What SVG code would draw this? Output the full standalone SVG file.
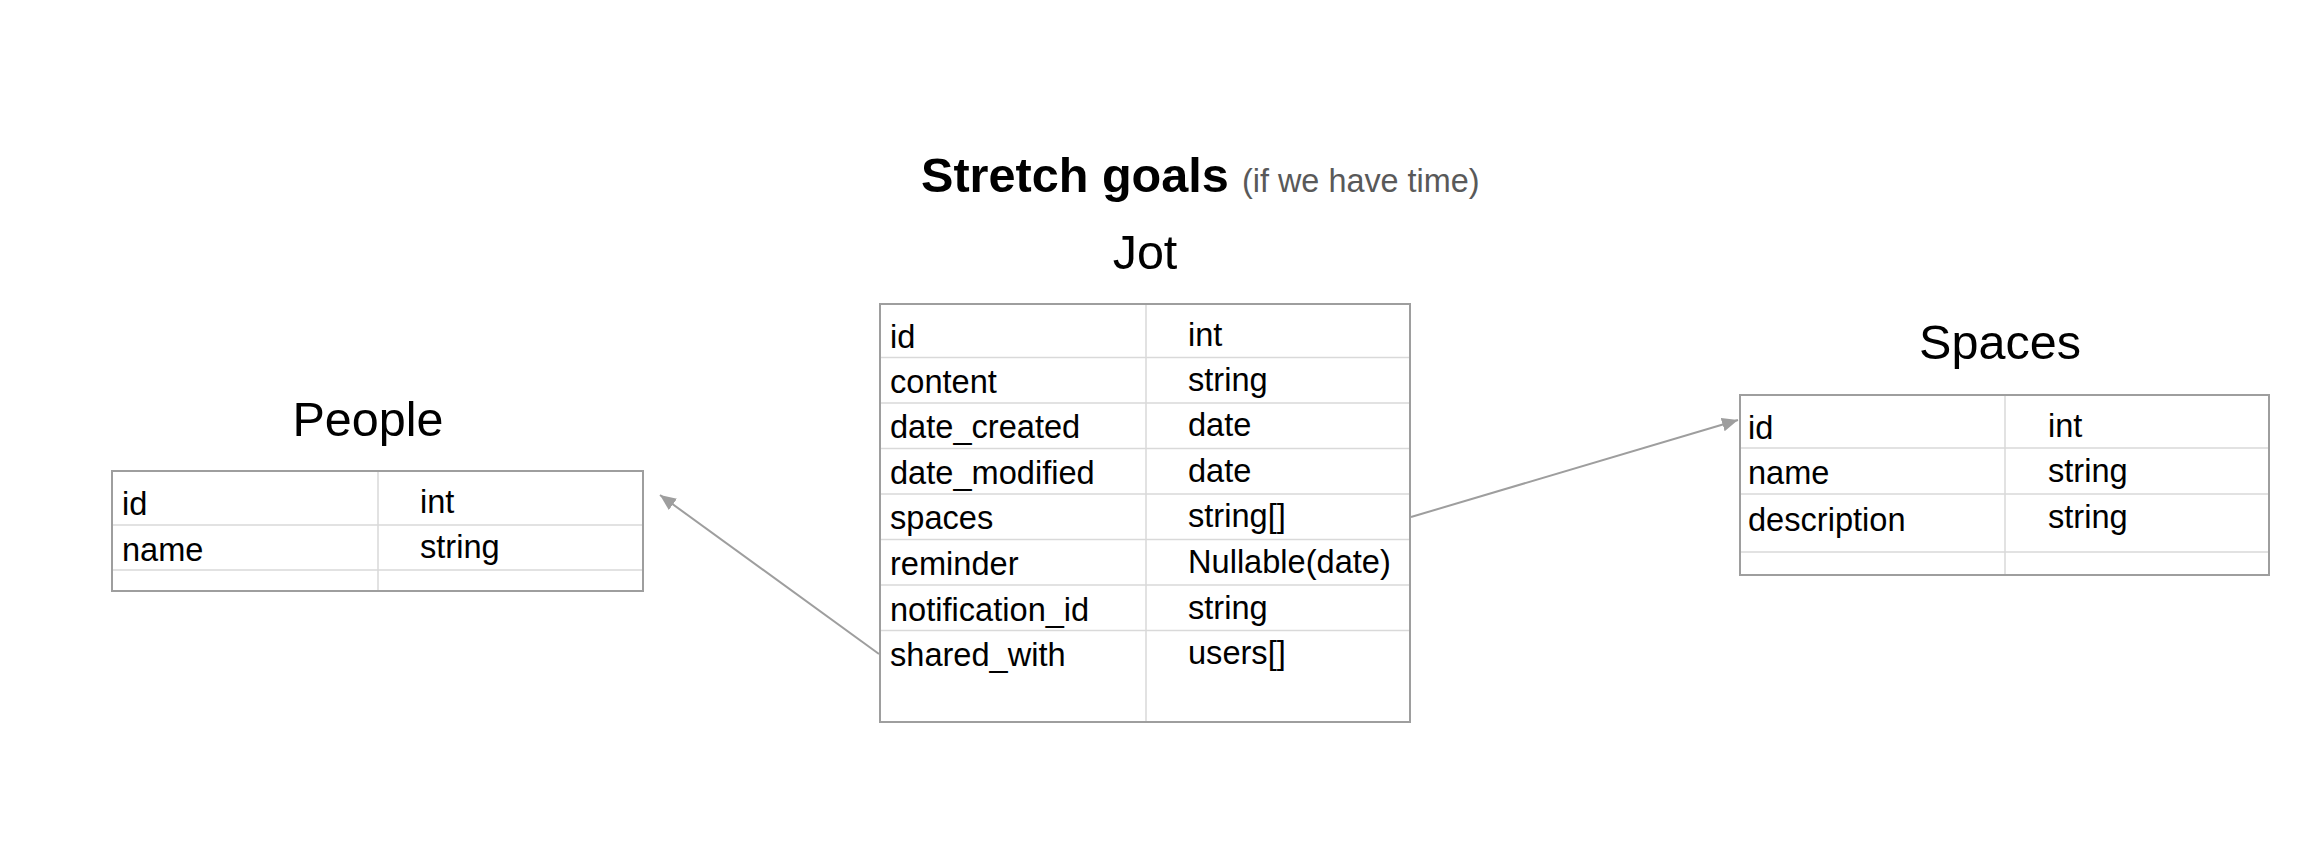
<svg xmlns="http://www.w3.org/2000/svg" width="2318" height="854" viewBox="0 0 2318 854">
<defs>
<style>
text{font-family:"Liberation Sans",Arial,sans-serif;fill:#000}
.cell{font-size:32.6px}
.title{font-size:48.5px;text-anchor:middle}
.frame{fill:none;stroke:#9e9e9e;stroke-width:2}
.grid{stroke:#d9d9d9;stroke-width:1.5;fill:none}
.conn{stroke:#9e9e9e;stroke-width:2;fill:none}
</style>
<marker id="arrow" markerUnits="userSpaceOnUse" markerWidth="18" markerHeight="14" refX="16" refY="7" orient="auto">
<path d="M0,0 L16,7 L0,14 Z" fill="#9e9e9e"/>
</marker>
</defs>
<rect width="2318" height="854" fill="#fff"/>

<g id="heading">
<text x="921" y="192" font-size="48.6" font-weight="bold">Stretch goals</text>
<text x="1242" y="192" font-size="32.4" style="fill:#595959">(if we have time)</text>
</g>

<g id="people">
<text class="title" x="368" y="436">People</text>
<line class="grid" x1="378" y1="471" x2="378" y2="591"/>
<line class="grid" x1="112" y1="525" x2="643" y2="525"/>
<line class="grid" x1="112" y1="570" x2="643" y2="570"/>
<rect class="frame" x="112" y="471" width="531" height="120"/>
<text class="cell" x="122" y="515">id</text>
<text class="cell" x="420" y="513">int</text>
<text class="cell" x="122" y="561">name</text>
<text class="cell" x="420" y="558">string</text>
</g>

<g id="jot">
<text class="title" x="1145" y="269">Jot</text>
<line class="grid" x1="1146" y1="304" x2="1146" y2="722"/>
<line class="grid" x1="880" y1="357.5" x2="1410" y2="357.5"/>
<line class="grid" x1="880" y1="403" x2="1410" y2="403"/>
<line class="grid" x1="880" y1="448.5" x2="1410" y2="448.5"/>
<line class="grid" x1="880" y1="494" x2="1410" y2="494"/>
<line class="grid" x1="880" y1="539.5" x2="1410" y2="539.5"/>
<line class="grid" x1="880" y1="585" x2="1410" y2="585"/>
<line class="grid" x1="880" y1="630.5" x2="1410" y2="630.5"/>
<rect class="frame" x="880" y="304" width="530" height="418"/>
<text class="cell" x="890" y="348">id</text>
<text class="cell" x="1188" y="346">int</text>
<text class="cell" x="890" y="393">content</text>
<text class="cell" x="1188" y="391">string</text>
<text class="cell" x="890" y="438">date_created</text>
<text class="cell" x="1188" y="436">date</text>
<text class="cell" x="890" y="484">date_modified</text>
<text class="cell" x="1188" y="482">date</text>
<text class="cell" x="890" y="529">spaces</text>
<text class="cell" x="1188" y="527">string[]</text>
<text class="cell" x="890" y="575">reminder</text>
<text class="cell" x="1188" y="573">Nullable(date)</text>
<text class="cell" x="890" y="621">notification_id</text>
<text class="cell" x="1188" y="619">string</text>
<text class="cell" x="890" y="666">shared_with</text>
<text class="cell" x="1188" y="664">users[]</text>
</g>

<g id="spaces">
<text class="title" x="2000" y="359">Spaces</text>
<line class="grid" x1="2005" y1="395" x2="2005" y2="575"/>
<line class="grid" x1="1740" y1="448" x2="2269" y2="448"/>
<line class="grid" x1="1740" y1="494" x2="2269" y2="494"/>
<line class="grid" x1="1740" y1="552" x2="2269" y2="552"/>
<rect class="frame" x="1740" y="395" width="529" height="180"/>
<text class="cell" x="1748" y="439">id</text>
<text class="cell" x="2048" y="437">int</text>
<text class="cell" x="1748" y="484">name</text>
<text class="cell" x="2048" y="482">string</text>
<text class="cell" x="1748" y="531">description</text>
<text class="cell" x="2048" y="528">string</text>
</g>

<g id="connectors">
<line class="conn" x1="879" y1="654" x2="660" y2="495" marker-end="url(#arrow)"/>
<line class="conn" x1="1411" y1="517" x2="1738" y2="420" marker-end="url(#arrow)"/>
</g>
</svg>
